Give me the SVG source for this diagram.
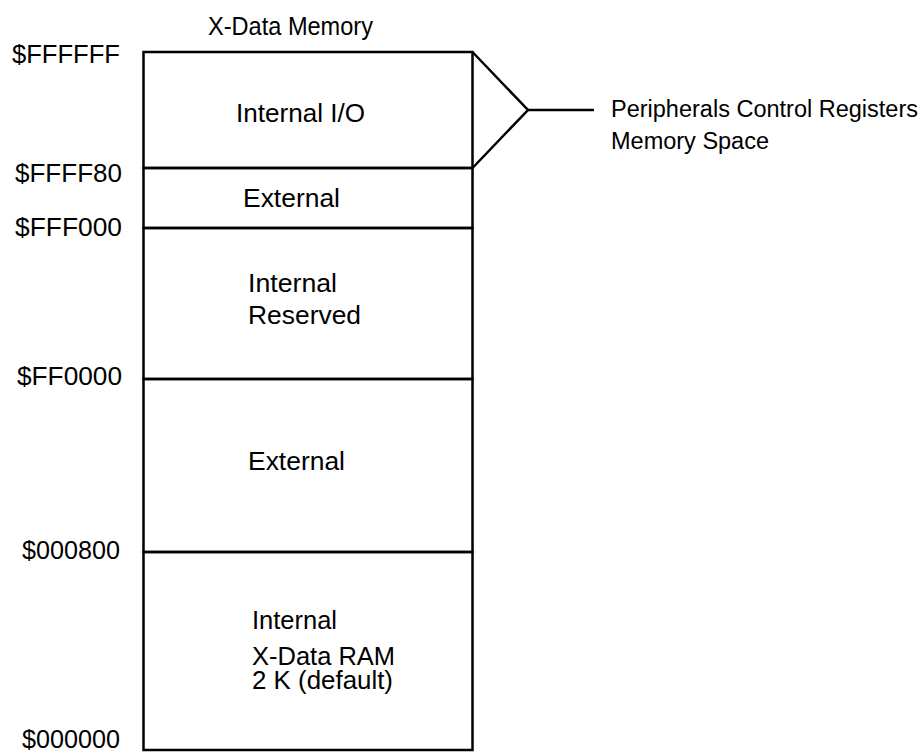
<svg xmlns="http://www.w3.org/2000/svg" width="924" height="753" viewBox="0 0 924 753">
<style>
.t{font-family:"Liberation Sans",Arial,sans-serif;fill:#000;font-size:25px}
.s{font-size:23.5px}
.k{fill:none;stroke:#000;stroke-width:2.5}
</style>
<rect width="924" height="753" fill="#fff"/>
<text class="t" x="208" y="35" textLength="165" lengthAdjust="spacingAndGlyphs">X-Data Memory</text>
<g id="addresses">
<text class="t" x="12" y="63" textLength="108" lengthAdjust="spacingAndGlyphs">$FFFFFF</text>
<text class="t" x="15" y="182" textLength="107" lengthAdjust="spacingAndGlyphs">$FFFF80</text>
<text class="t" x="15" y="236" textLength="107" lengthAdjust="spacingAndGlyphs">$FFF000</text>
<text class="t" x="17" y="385" textLength="105" lengthAdjust="spacingAndGlyphs">$FF0000</text>
<text class="t" x="22" y="559" textLength="98" lengthAdjust="spacingAndGlyphs">$000800</text>
<text class="t" x="22" y="748" textLength="98" lengthAdjust="spacingAndGlyphs">$000000</text>
</g>
<g id="internal-io">
<rect class="k" x="143.5" y="52" width="329" height="116"/>
<text class="t" x="236" y="122" textLength="129" lengthAdjust="spacingAndGlyphs">Internal I/O</text>
</g>
<g id="external-top">
<rect class="k" x="143.5" y="168" width="329" height="60"/>
<text class="t" x="243" y="207" textLength="97" lengthAdjust="spacingAndGlyphs">External</text>
</g>
<g id="internal-reserved">
<rect class="k" x="143.5" y="228" width="329" height="151"/>
<text class="t" x="248" y="292" textLength="89" lengthAdjust="spacingAndGlyphs">Internal</text>
<text class="t" x="248" y="324" textLength="113" lengthAdjust="spacingAndGlyphs">Reserved</text>
</g>
<g id="external-mid">
<rect class="k" x="143.5" y="379" width="329" height="173"/>
<text class="t" x="248" y="470" textLength="97" lengthAdjust="spacingAndGlyphs">External</text>
</g>
<g id="internal-ram">
<rect class="k" x="143.5" y="552" width="329" height="198"/>
<text class="t" x="252" y="629" textLength="85" lengthAdjust="spacingAndGlyphs">Internal</text>
<text class="t" x="252" y="665" textLength="143" lengthAdjust="spacingAndGlyphs">X-Data RAM</text>
<text class="t" x="252" y="689" textLength="141" lengthAdjust="spacingAndGlyphs">2 K (default)</text>
</g>
<g id="connectors">
<polyline class="k" points="472.5,52 528,110 472.5,168"/>
<line class="k" x1="528" y1="110" x2="594" y2="110"/>
</g>
<g id="peripherals">
<text class="t s" x="611" y="117" textLength="307" lengthAdjust="spacingAndGlyphs">Peripherals Control Registers</text>
<text class="t s" x="611" y="149" textLength="158" lengthAdjust="spacingAndGlyphs">Memory Space</text>
</g>
</svg>
